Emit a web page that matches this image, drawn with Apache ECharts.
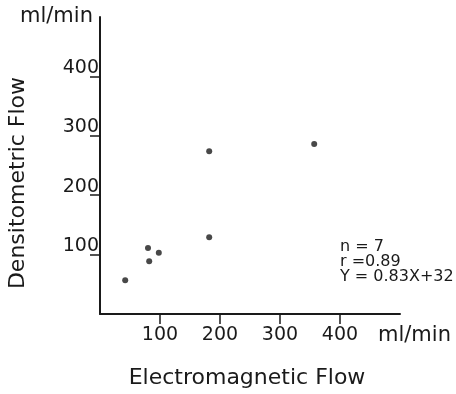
<!DOCTYPE html>
<html><head><meta charset="utf-8">
<script src="https://cdn.jsdelivr.net/npm/echarts@6/dist/echarts.min.js"></script>
<style>html,body{margin:0;padding:0;background:#fff}#c{width:456px;height:394px}</style>
</head><body><div id="c"></div>
<script>
const electromagnetic = [42, 80, 82, 98, 182, 182, 357];
const densitometric = [57, 111, 89, 103, 129, 274, 286];
const tickValues = [100, 200, 300, 400];
const statsLines = ['n = 7', 'r =0.89', 'Y = 0.83X+32'];
const unitLabel = 'ml/min';
const xTitle = 'Electromagnetic Flow';
const yTitle = 'Densitometric Flow';

const FONT = 'DejaVu Sans';
const INK = '#1a1a1a';
const chart = echarts.init(document.getElementById('c'));
const axisCommon = {
  min: 0, max: 500, interval: 100,
  axisLine: { show: true, lineStyle: { color: INK, width: 2 } },
  splitLine: { show: false },
  axisTick: { show: true, length: 10, lineStyle: { color: INK, width: 1.5 }, customValues: tickValues },
};
chart.setOption({
  animation: false,
  backgroundColor: '#fff',
  grid: { left: 100, top: 17, width: 300, height: 297 },
  xAxis: Object.assign({}, axisCommon, {
    type: 'value',
    axisLabel: { customValues: tickValues, margin: 12, color: INK, fontFamily: FONT, fontSize: 19 }
  }),
  yAxis: Object.assign({}, axisCommon, {
    type: 'value',
    axisLabel: { customValues: tickValues, margin: 1, color: INK, fontFamily: FONT, fontSize: 19, verticalAlign: 'bottom', align: 'right', lineHeight: 17 }
  }),
  graphic: [
    { type: 'text', left: 20, top: 6, style: { text: unitLabel, font: '21px "DejaVu Sans"', fill: INK } },
    { type: 'text', left: 378, top: 325, style: { text: unitLabel, font: '21px "DejaVu Sans"', fill: INK } },
    { type: 'text', x: 247, y: 378, style: { text: xTitle, font: '22px "DejaVu Sans"', fill: INK, align: 'center', verticalAlign: 'middle' } },
    { type: 'text', x: 18, y: 183, rotation: Math.PI / 2, style: { text: yTitle, font: '22px "DejaVu Sans"', fill: INK, align: 'center', verticalAlign: 'middle' } },
    { type: 'text', left: 340, top: 239, style: { text: statsLines.join('\n'), font: '16px "DejaVu Sans"', lineHeight: 15, fill: INK } }
  ],
  series: [{
    type: 'scatter',
    symbolSize: 6,
    itemStyle: { color: '#1a1a1a' },
    data: electromagnetic.map((x, i) => [x, densitometric[i]])
  }]
});
</script></body></html>
